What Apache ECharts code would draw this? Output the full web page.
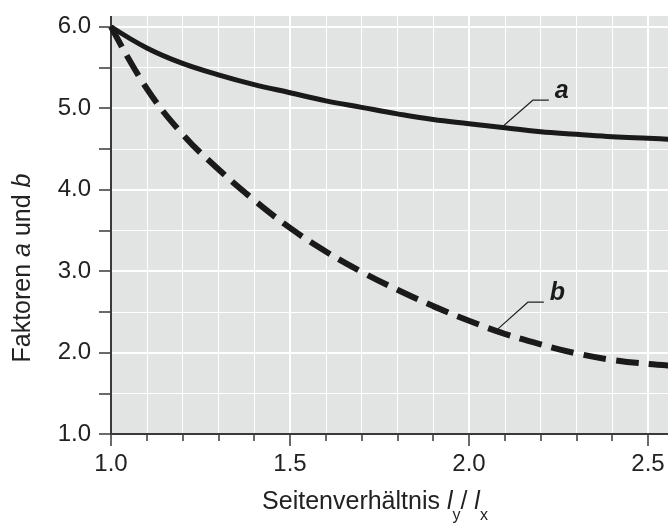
<!DOCTYPE html>
<html>
<head>
<meta charset="utf-8">
<script src="https://cdn.jsdelivr.net/npm/echarts@6/dist/echarts.min.js"></script>
<style>
  html, body { margin: 0; padding: 0; background: #fff; }
  #chart { width: 668px; height: 525px; }
</style>
</head>
<body>
<div id="chart"></div>
<script>
// Seitenverhältnis ly / lx
const ratios = [1.0, 1.1, 1.2, 1.3, 1.4, 1.5, 1.6, 1.7, 1.8, 1.9, 2.0, 2.1, 2.2, 2.3, 2.4, 2.5, 2.6]
// Faktor a (durchgezogen)
const factorA = [6.0, 5.74, 5.55, 5.41, 5.29, 5.19, 5.09, 5.01, 4.93, 4.86, 4.81, 4.76, 4.71, 4.68, 4.65, 4.63, 4.61]
// Faktor b (gestrichelt)
const factorB = [6.0, 5.24, 4.68, 4.25, 3.87, 3.53, 3.24, 2.99, 2.77, 2.57, 2.39, 2.23, 2.10, 1.99, 1.91, 1.86, 1.83]

// Hinweislinien zu den Kurvenbeschriftungen
const leaderA = [[2.098, 4.79], [2.179, 5.10], [2.223, 5.10]]
const leaderB = [[2.081, 2.29], [2.165, 2.62], [2.209, 2.62]]

const FONT = 'Liberation Sans, Arial, Helvetica, sans-serif'
const INK = '#1a1a1a'
const AXIS = '#3a3a3a'
const TEXT = '#222'

function pairs(xs, ys) {
  return xs.map((x, i) => [x, ys[i]])
}

function leaderSeries(points, text) {
  return {
    type: 'line',
    silent: true,
    showSymbol: false,
    symbol: 'none',
    lineStyle: { color: '#222', width: 1.2 },
    data: points,
    endLabel: {
      show: true,
      distance: 6,
      offset: [0, -9],
      formatter: text,
      color: INK,
      fontFamily: FONT,
      fontSize: 25,
      fontWeight: 'bold',
      fontStyle: 'italic',
    },
    z: 3,
  }
}

const chart = echarts.init(document.getElementById('chart'))

chart.setOption({
  animation: false,
  grid: {
    left: 111,
    right: -159,
    top: -14,
    bottom: 91,
    outerBoundsMode: 'none',
    containLabel: false,
    show: true,
    backgroundColor: '#e2e3e3',
    borderWidth: 0,
  },
  xAxis: {
    type: 'value',
    min: 1,
    max: 3,
    interval: 0.5,
    name: '{n|Seitenverhältnis }{i|l}{s|y}{n|/ }{i|l}{s|x}',
    nameLocation: 'middle',
    nameGap: 46,
    nameTextStyle: {
      padding: [0, 188, 0, 0],
      rich: {
        n: { fontFamily: FONT, fontSize: 25, color: TEXT, lineHeight: 44 },
        i: { fontFamily: FONT, fontSize: 25, color: TEXT, fontStyle: 'italic', lineHeight: 44 },
        s: { fontFamily: FONT, fontSize: 16, color: TEXT, lineHeight: 12, verticalAlign: 'bottom' },
      },
    },
    axisLine: { onZero: false, lineStyle: { color: AXIS, width: 2 } },
    axisTick: { show: true, length: 12, lineStyle: { color: AXIS, width: 1.5 } },
    minorTick: { show: true, splitNumber: 5, length: 7, lineStyle: { color: AXIS, width: 1.5 } },
    axisLabel: {
      margin: 18,
      fontFamily: FONT,
      fontSize: 24,
      color: TEXT,
      formatter: (v) => v.toFixed(1),
    },
    splitLine: { show: true, lineStyle: { color: '#ffffff', width: 2 } },
    minorSplitLine: { show: true, lineStyle: { color: '#ffffff', width: 1 } },
  },
  yAxis: {
    type: 'value',
    min: 1,
    max: 6.5,
    interval: 1,
    name: '{n|Faktoren }{i|a}{n| und }{i|b}',
    nameLocation: 'middle',
    nameGap: 74,
    nameTextStyle: {
      padding: [0, 116, 0, 0],
      rich: {
        n: { fontFamily: FONT, fontSize: 25, color: TEXT, lineHeight: 28 },
        i: { fontFamily: FONT, fontSize: 25, color: TEXT, fontStyle: 'italic', lineHeight: 28 },
      },
    },
    axisLine: { show: true, onZero: false, lineStyle: { color: AXIS, width: 2 } },
    axisTick: { show: true, length: 12, lineStyle: { color: AXIS, width: 1.5 } },
    minorTick: { show: true, splitNumber: 2, length: 12, lineStyle: { color: AXIS, width: 1.5 } },
    axisLabel: {
      margin: 20,
      fontFamily: FONT,
      fontSize: 24,
      color: TEXT,
      formatter: (v) => v.toFixed(1),
    },
    splitLine: { show: true, lineStyle: { color: '#ffffff', width: 2 } },
    minorSplitLine: { show: true, lineStyle: { color: '#ffffff', width: 1 } },
  },
  // Plotbereich oben abschneiden wie im Original
  graphic: [
    {
      type: 'rect',
      z: 100,
      shape: { x: 0, y: 0, width: 668, height: 16 },
      style: { fill: '#ffffff' },
    },
  ],
  series: [
    {
      name: 'a',
      type: 'line',
      smooth: 0.4,
      showSymbol: false,
      symbol: 'none',
      lineStyle: { color: INK, width: 5 },
      data: pairs(ratios, factorA),
      z: 4,
    },
    {
      name: 'b',
      type: 'line',
      smooth: 0.4,
      showSymbol: false,
      symbol: 'none',
      lineStyle: { color: INK, width: 6, type: [23, 10], cap: 'butt' },
      data: pairs(ratios, factorB),
      z: 4,
    },
    leaderSeries(leaderA, 'a'),
    leaderSeries(leaderB, 'b'),
  ],
})
</script>
</body>
</html>
